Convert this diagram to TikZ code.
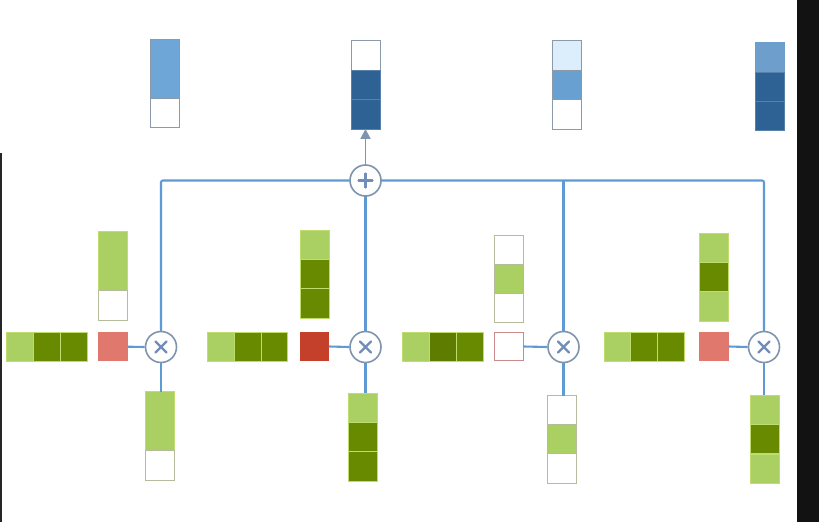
\documentclass[tikz,border=0pt]{standalone}
\usetikzlibrary{arrows.meta,calc}
\definecolor{lgreen}{HTML}{AAD064}
\definecolor{dgreen}{HTML}{678A00}
\definecolor{cellline}{HTML}{BFDC6E}
\definecolor{wline}{HTML}{B4BC9C}
\definecolor{salmon}{HTML}{E0786E}
\definecolor{strongred}{HTML}{C4402A}
\definecolor{redline}{HTML}{C88A8A}
\definecolor{mblue}{HTML}{6EA6D8}
\definecolor{mblueb}{HTML}{68A0D2}
\definecolor{mbluec}{HTML}{6E9ECC}
\definecolor{dblue}{HTML}{2E6294}
\definecolor{lblue}{HTML}{DCEDFB}
\definecolor{bline}{HTML}{8A9AAB}
\definecolor{wire}{HTML}{5E9AD4}
\definecolor{opline}{HTML}{7F94AD}
\definecolor{opsym}{HTML}{6F8DB8}
\begin{document}
\begin{tikzpicture}[x=1pt,y=-1pt,
  cell/.style={rectangle,inner sep=0pt,outer sep=0pt,line width=0.7pt,minimum width=29pt,minimum height=29.3pt},
  hcell/.style={cell,minimum width=26.9pt,minimum height=28.7pt},
  tall/.style={minimum height=58.8pt},
  lg/.style={cell,fill=lgreen,draw=cellline},
  dg/.style={cell,fill=dgreen,draw=cellline},
  wg/.style={cell,fill=white,draw=wline},
  redsq/.style={cell,minimum width=29.4pt,minimum height=28.7pt},
  bw/.style={cell,fill=white,draw=bline},
  bl/.style={cell,fill=lblue,draw=bline},
  bm/.style={cell,fill=mblue,draw=mblue},
  bd/.style={cell,fill=dblue,draw=dblue!80!white},
  opnode/.style={circle,draw=opline,line width=1.6pt,fill=white,minimum size=31pt,inner sep=0pt},
  wirel/.style={draw=wire,line width=2.1pt},
  opsymb/.style={draw=opsym,line width=2.2pt,line cap=round},
]
\useasboundingbox (0,0) rectangle (819,522);
\fill[white] (0,0) rectangle (819,522);
% frame edges
\fill[black!85] (0,153) rectangle (1.6,522);
\fill[black!93] (796.5,0) rectangle (819,522);

% top output bars
\node[bm,minimum height=59pt] (t1a) at (164.7,68.8) {};
\node[bw] (t1b) at (164.7,112.8) {};
\draw[bline,line width=0.7pt] (t1a.north west) rectangle (t1b.south east);

\node[bw] (t2a) at (366,55.4) {};
\node[bd] (t2b) at (366,84.8) {};
\node[bd] (t2c) at (366,114.3) {};

\node[bl] (t3a) at (566.8,55.4) {};
\node[bm,fill=mblueb,draw=bline] (t3b) at (566.8,84.8) {};
\node[bw] (t3c) at (566.8,114.3) {};

\node[bm,fill=mbluec,draw=mbluec] (t4a) at (769.5,57) {};
\node[bd] (t4b) at (769.5,86.5) {};
\node[bd] (t4c) at (769.5,116) {};

% group 1
\node[lg,tall] (g1a1) at (112.8,261.1) {};
\node[wg] (g1a2) at (112.8,305.2) {};
\node[hcell,fill=lgreen,draw=cellline] (g1h1) at (20.15,346.7) {};
\node[hcell,fill=dgreen,draw=cellline] (g1h2) at (47,346.7) {};
\node[hcell,fill=dgreen,draw=cellline] (g1h3) at (73.9,346.7) {};
\node[redsq,fill=salmon] (g1r) at (113,346.7) {};
\node[lg,tall] (g1b1) at (160,421.1) {};
\node[wg] (g1b2) at (160,465.2) {};

% group 2
\node[lg] (g2a1) at (314.5,245.2) {};
\node[dg] (g2a2) at (314.5,274.2) {};
\node[dg] (g2a3) at (314.5,303.2) {};
\node[hcell,fill=lgreen,draw=cellline] (g2h1) at (220.7,346.5) {};
\node[hcell,fill=dgreen,draw=cellline] (g2h2) at (247.5,346.5) {};
\node[hcell,fill=dgreen,draw=cellline] (g2h3) at (274.3,346.5) {};
\node[redsq,fill=strongred] (g2r) at (314.2,346.5) {};
\node[lg] (g2b1) at (362.5,407.9) {};
\node[dg] (g2b2) at (362.5,437.1) {};
\node[dg] (g2b3) at (362.5,466.4) {};

% group 3
\node[wg] (g3a1) at (508.8,249.6) {};
\node[lg,draw=wline] (g3a2) at (508.8,278.9) {};
\node[wg] (g3a3) at (508.8,308.1) {};
\node[hcell,fill=lgreen,draw=cellline] (g3h1) at (415.8,346.5) {};
\node[hcell,fill=dgreen!90!black,draw=cellline] (g3h2) at (442.8,346.5) {};
\node[hcell,fill=dgreen,draw=cellline] (g3h3) at (469.8,346.5) {};
\node[redsq,fill=white,draw=redline,line width=1pt] (g3r) at (508.8,346.5) {};
\node[wg] (g3b1) at (561.8,410.2) {};
\node[lg,draw=wline] (g3b2) at (561.8,439.2) {};
\node[wg] (g3b3) at (561.8,468.2) {};

% group 4
\node[lg] (g4a1) at (713.8,247.9) {};
\node[dg] (g4a2) at (713.8,277.1) {};
\node[lg] (g4a3) at (713.8,306.4) {};
\node[hcell,fill=lgreen,draw=cellline] (g4h1) at (617.4,346.5) {};
\node[hcell,fill=dgreen,draw=cellline] (g4h2) at (644.2,346.5) {};
\node[hcell,fill=dgreen,draw=cellline] (g4h3) at (671,346.5) {};
\node[redsq,fill=salmon] (g4r) at (713.8,346.5) {};
\node[lg] (g4b1) at (765,409.7) {};
\node[dg] (g4b2) at (765,439.1) {};
\node[lg] (g4b3) at (765,468.6) {};

% operator positions (coordinates for wiring)
\coordinate (pc) at (365.5,180.5);
\coordinate (c1) at (161,180.5);
\coordinate (c3) at (563.5,180.5);
\coordinate (c4) at (764,180.5);

% wires (drawn below operators)
\path[wirel,rounded corners=2pt] (161,347) -- (c1) -- (pc) -- (c4) -- (764,347);
\path[wirel] (c3) -- (563.5,347);
\path[wirel] (pc) -- (365.5,347);

% operators
\node[opnode] (plus) at (pc) {};
\node[opnode] (m1) at (161,347) {};
\node[opnode] (m2) at (365.5,347) {};
\node[opnode] (m3) at (563.5,347) {};
\node[opnode] (m4) at (764,347) {};

\path[wirel] (g1r.east) -- (m1.west);
\path[wirel] (g2r.east) -- (m2.west);
\path[wirel] (g3r.east) -- (m3.west);
\path[wirel] (g4r.east) -- (m4.west);
\path[wirel] (m1.south) -- (m1.south |- g1b1.north);
\path[wirel] (m2.south) -- (m2.south |- g2b1.north);
\path[wirel] (m3.south) -- (m3.south |- g3b1.north);
\path[wirel] (m4.south) -- (m4.south |- g4b1.north);
\draw[opline,line width=1.8pt,-{Triangle[width=10pt,length=10pt]}] (plus.north) -- (plus.north |- t2c.south);

% operator symbols
\foreach \m in {m1,m2,m3,m4}{
  \path[opsymb] ($(\m)+(-5.5,-5.5)$) -- ($(\m)+(5.5,5.5)$) ($(\m)+(-5.5,5.5)$) -- ($(\m)+(5.5,-5.5)$);
}
\path[opsymb] ($(plus)+(-7,0)$) -- ($(plus)+(7,0)$) ($(plus)+(0,-7)$) -- ($(plus)+(0,7)$);
\end{tikzpicture}
\end{document}
